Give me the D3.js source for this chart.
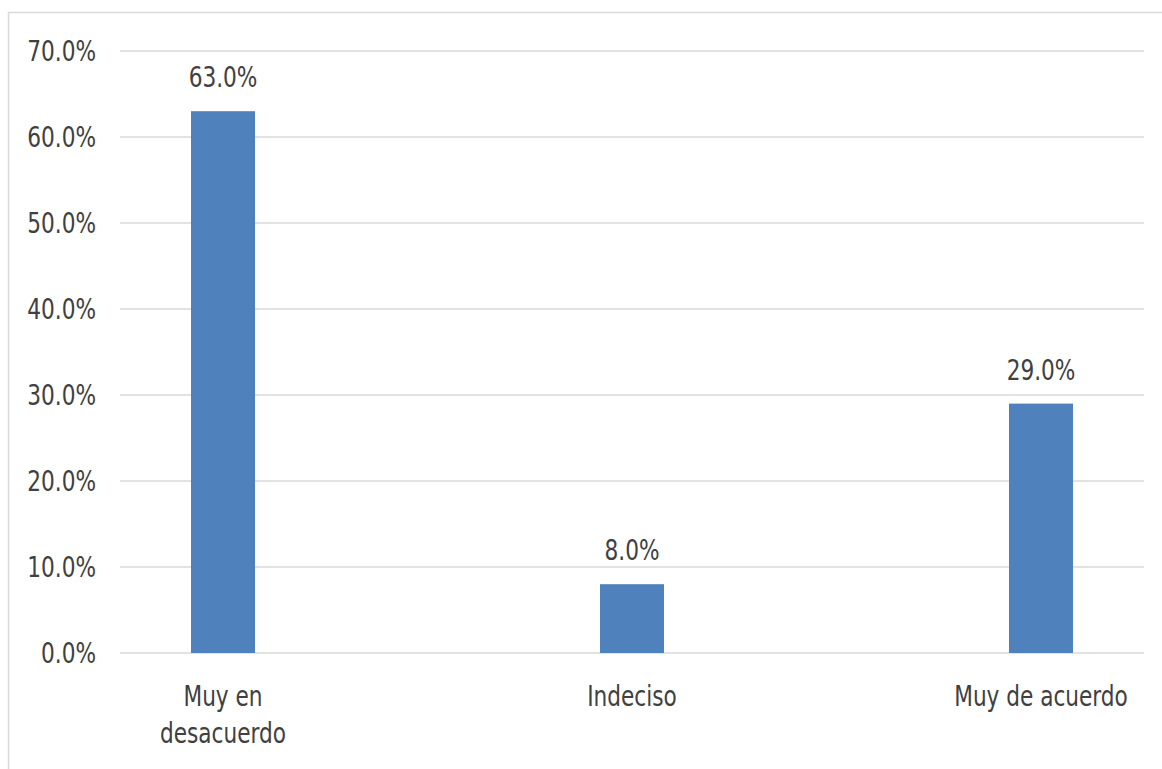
<!DOCTYPE html>
<html>
<head>
<meta charset="utf-8">
<script src="https://cdn.jsdelivr.net/npm/d3@7"></script>
<style>
  body { margin: 0; background: #fff; }
  svg { display: block; }
  text { font-family: "DejaVu Sans Condensed", "Liberation Sans Narrow", Arial, sans-serif; fill: #404040; }
</style>
</head>
<body>
<svg id="chart" width="1162" height="769"></svg>
<script>
// chart data
const categories = ['Muy en desacuerdo', 'Indeciso', 'Muy de acuerdo']
const labelLines = [['Muy en', 'desacuerdo'], ['Indeciso'], ['Muy de acuerdo']]
const values = [0.63, 0.08, 0.29]
const yTicks = [0, 0.1, 0.2, 0.3, 0.4, 0.5, 0.6, 0.7]

const svg = d3.select('#chart')
const fmt = d3.format('.1%')

// text in the picture is narrow and tall, squeeze it horizontally
const fontSize = 29
const sx = 0.83

// outer chart border (Excel frame, right/bottom run off the picture)
svg.append('rect')
    .attr('x', 8.5)
    .attr('y', 12.5)
    .attr('width', 1200)
    .attr('height', 800)
    .attr('fill', 'none')
    .attr('stroke', '#d9d9d9')
    .attr('stroke-width', 1.5)

const plotLeft = 120, plotRight = 1144, plotTop = 51, plotBottom = 653

const x = d3.scalePoint()
    .domain(categories)
    .range([223, 1041])

const y = d3.scaleLinear()
    .domain([0, 0.7])
    .range([plotBottom, plotTop])

const barW = 64

// gridlines
svg.append('g')
    .selectAll('line')
    .data(yTicks)
    .enter()
    .append('line')
    .attr('x1', plotLeft)
    .attr('x2', plotRight)
    .attr('y1', d => y(d))
    .attr('y2', d => y(d))
    .attr('stroke', '#d9d9d9')
    .attr('stroke-width', 1.5)

// y axis labels
const yAxis = svg.append('g')
    .attr('transform', `translate(${plotLeft}, 0)`)
    .call(d3.axisLeft(y).tickValues(yTicks).tickFormat(fmt).tickSize(0).tickPadding(24))
yAxis.select('.domain').remove()
yAxis.attr('font-family', null).attr('font-size', null)
yAxis.selectAll('text')
    .attr('font-size', fontSize)
    .attr('fill', '#404040')
    .attr('x', -24 / sx)
    .attr('transform', `scale(${sx},1)`)

// bars
svg.append('g')
    .selectAll('rect')
    .data(values)
    .enter()
    .append('rect')
    .attr('x', (d, i) => x(categories[i]) - barW / 2)
    .attr('y', d => y(d))
    .attr('width', barW)
    .attr('height', d => plotBottom - y(d))
    .attr('fill', '#4f81bd')

// value labels
svg.append('g')
    .selectAll('g')
    .data(values)
    .enter()
    .append('g')
    .attr('transform', (d, i) => `translate(${x(categories[i])},${y(d) - 24}) scale(${sx},1)`)
    .append('text')
    .attr('text-anchor', 'middle')
    .attr('font-size', fontSize)
    .text(d => fmt(d))

// category labels
const cat = svg.append('g')
    .selectAll('g')
    .data(labelLines)
    .enter()
    .append('g')
    .attr('transform', (d, i) => `translate(${x(categories[i])},706) scale(${sx},1)`)
    .append('text')
    .attr('text-anchor', 'middle')
    .attr('font-size', fontSize)

cat.selectAll('tspan')
    .data(d => d)
    .enter()
    .append('tspan')
    .attr('x', 0)
    .attr('dy', (d, j) => j === 0 ? 0 : 37)
    .text(d => d)
</script>
</body>
</html>
